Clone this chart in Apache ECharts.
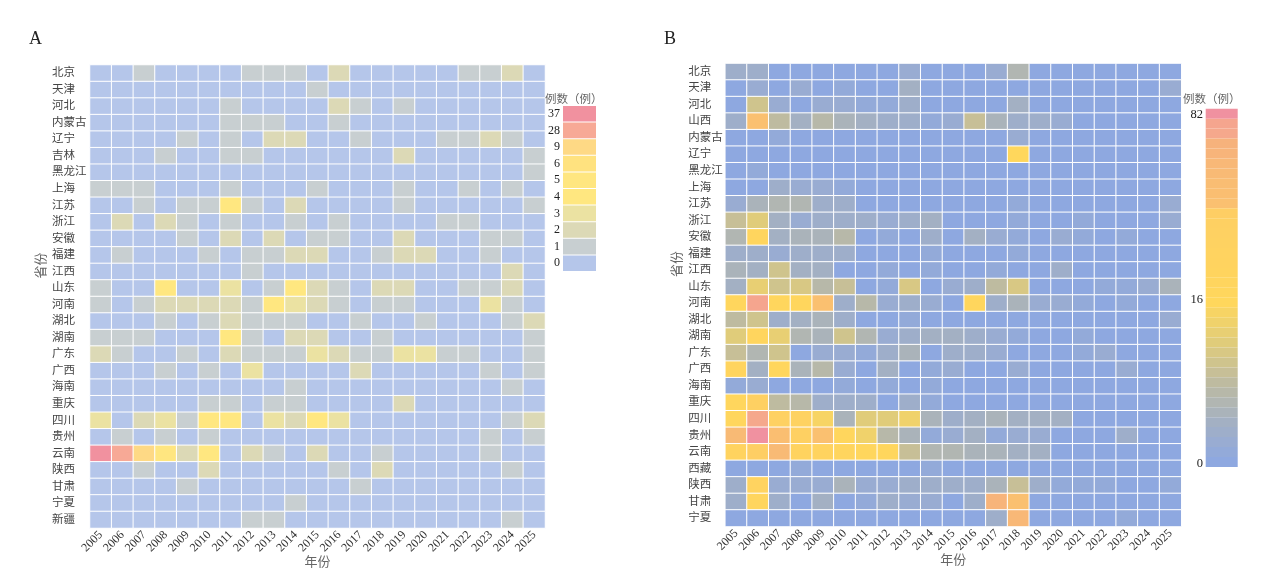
<!DOCTYPE html>
<html>
<head>
<meta charset="utf-8">
<style>html,body{margin:0;padding:0;background:#fff}#c{width:1268px;height:579px}</style>
<script src="https://cdn.jsdelivr.net/npm/echarts@6/dist/echarts.min.js"></script>
</head>
<body>
<div id="c"></div>
<script>
const years = ['2005','2006','2007','2008','2009','2010','2011','2012','2013','2014','2015','2016','2017','2018','2019','2020','2021','2022','2023','2024','2025'];
const provincesA = ['北京','天津','河北','内蒙古','辽宁','吉林','黑龙江','上海','江苏','浙江','安徽','福建','江西','山东','河南','湖北','湖南','广东','广西','海南','重庆','四川','贵州','云南','陕西','甘肃','宁夏','新疆'];
const provincesB = ['北京','天津','河北','山西','内蒙古','辽宁','黑龙江','上海','江苏','浙江','安徽','福建','江西','山东','河南','湖北','湖南','广东','广西','海南','重庆','四川','贵州','云南','西藏','陕西','甘肃','宁夏'];
const valuesA = [
[0,0,1,0,0,0,0,1,1,1,0,2,0,0,0,0,0,1,1,2,0],
[0,0,0,0,0,0,0,0,0,0,1,0,0,0,0,0,0,0,0,0,0],
[0,0,0,0,0,0,1,0,0,0,0,2,1,0,1,0,0,0,0,0,0],
[0,0,0,0,0,0,1,1,1,0,0,1,0,0,0,0,0,0,0,0,0],
[0,0,0,0,1,0,1,0,2,2,0,0,1,0,0,0,1,1,2,1,0],
[0,0,0,1,0,0,1,1,0,0,0,0,0,0,2,0,0,0,0,0,1],
[0,0,0,0,0,0,0,0,0,0,0,0,0,0,0,0,0,0,0,0,1],
[1,1,1,0,0,0,1,0,0,0,1,0,0,0,1,0,0,1,0,1,0],
[0,0,1,0,1,1,4,1,0,2,0,0,0,0,1,0,0,0,0,0,1],
[0,2,0,2,1,0,1,0,0,1,0,1,0,0,0,0,1,1,0,0,0],
[0,0,0,0,1,0,2,0,2,0,1,1,0,0,2,0,0,0,1,1,0],
[0,1,0,0,0,1,0,1,1,2,2,0,0,1,2,2,0,0,1,0,0],
[0,0,0,0,0,0,0,1,0,0,0,0,0,0,0,0,0,0,0,2,0],
[1,0,0,4,0,0,3,0,1,4,2,1,0,2,2,0,0,1,1,2,0],
[1,0,1,2,2,2,2,1,4,3,2,1,0,1,1,0,0,0,3,1,0],
[0,0,0,1,0,1,2,1,1,1,0,0,1,0,0,1,0,0,0,1,2],
[1,1,1,0,0,0,4,1,0,2,2,0,0,1,0,0,0,0,0,0,1],
[2,1,0,0,1,0,2,1,1,1,3,2,1,1,3,3,1,1,0,0,1],
[0,0,0,1,0,1,0,3,0,0,0,0,2,0,0,0,0,0,1,0,1],
[0,0,0,0,0,0,0,0,0,1,0,0,0,0,0,0,0,0,0,1,0],
[0,0,0,0,0,1,1,0,1,1,0,0,0,0,2,0,0,0,0,0,0],
[3,0,2,3,1,4,4,0,3,2,4,3,0,0,0,0,0,0,0,1,2],
[0,1,0,1,0,1,0,0,0,0,0,0,0,0,0,0,0,0,1,0,1],
[37,28,9,5,2,4,0,2,1,0,2,0,0,1,0,0,0,0,1,0,0],
[0,0,1,0,0,2,0,0,0,0,0,1,0,2,0,0,0,0,0,1,0],
[0,0,0,0,1,0,0,0,0,0,0,0,1,0,0,0,0,0,0,0,0],
[0,0,0,0,0,0,0,0,0,1,0,0,0,0,0,0,0,0,0,0,0],
[0,0,0,0,0,0,0,1,1,0,0,0,0,0,0,0,0,0,0,1,0]
];
const valuesB = [
[3,3,0,0,0,0,0,0,2,0,0,0,2,6,0,0,0,0,0,0,0],
[0,2,0,2,0,1,0,0,4,0,0,0,0,0,0,0,0,0,0,0,2],
[0,10,2,0,2,2,1,1,3,0,0,0,0,4,0,0,0,0,0,0,0],
[3,28,8,4,7,5,4,3,3,1,2,9,5,3,3,2,0,0,0,0,0],
[0,0,1,0,0,0,0,0,0,0,0,0,0,2,0,0,0,0,0,0,0],
[0,0,0,0,0,0,0,0,0,0,0,0,0,16,0,0,0,0,0,0,0],
[0,1,0,0,0,0,0,0,0,0,0,0,0,0,0,0,0,0,0,0,0],
[0,0,3,2,2,1,0,0,0,0,0,0,0,0,0,0,0,0,0,0,0],
[2,5,6,6,3,3,0,0,0,0,0,0,0,1,0,0,0,0,0,0,2],
[9,12,4,2,3,3,3,2,3,4,0,0,0,1,0,0,1,0,0,0,2],
[6,18,4,5,5,7,0,1,0,3,0,4,2,1,0,2,1,0,1,0,0],
[3,3,2,3,3,3,0,0,0,1,0,0,0,1,0,0,0,0,0,0,0],
[5,4,10,4,4,0,0,1,0,1,0,0,1,0,0,3,0,0,0,0,0],
[4,13,10,11,7,9,0,1,11,0,2,3,8,11,0,0,0,1,1,2,5],
[17,55,17,17,28,3,7,2,3,2,0,17,3,5,2,2,1,0,1,0,0],
[8,10,3,4,5,3,0,0,1,0,0,0,0,0,0,0,0,0,0,0,2],
[12,18,13,6,5,10,6,2,3,4,4,3,2,1,0,0,1,0,0,0,0],
[9,6,10,0,2,2,1,3,5,0,3,3,2,0,0,0,1,2,0,0,0],
[19,4,17,5,7,2,0,4,0,1,2,0,0,2,0,0,0,0,2,0,0],
[1,2,0,0,0,1,0,1,0,1,0,0,0,0,0,0,0,0,0,0,0],
[17,24,8,7,3,3,3,0,3,1,0,0,0,0,0,0,0,0,0,0,0],
[17,48,23,22,15,5,12,12,14,5,3,4,5,4,4,4,0,0,0,0,0],
[35,82,30,24,28,17,14,7,5,1,2,4,1,2,2,0,0,0,3,0,0],
[20,26,35,20,20,18,17,17,9,6,6,5,5,4,4,0,0,0,0,0,0],
[0,0,0,1,0,0,0,0,0,1,0,0,0,0,0,0,0,0,0,0,0],
[3,21,2,2,2,5,2,2,3,3,3,3,5,9,3,1,1,1,0,0,1],
[3,18,3,0,4,0,1,3,2,2,0,3,42,28,0,0,0,0,0,0,0],
[0,0,0,0,0,0,0,0,0,0,0,0,3,38,0,0,0,0,1,0,0]
];
const legendLevelsA = [0,1,2,3,4,5,6,9,28,37];
const legendColorsA = ['#b5c6ea','#c8cfd1','#dcd9b6','#ebe2a2','#ffe780','#ffe680','#ffe27f','#fed985','#f7a996','#f1919f'];
const legendLevelsB = [0,1,2,3,4,5,6,7,8,9,10,11,12,13,14,15,16,17,18,19,20,21,22,23,24,26,28,30,32,35,38,42,45,48,55,82];
const legendTicksB = ['82','16','0'];
const legendTickTopsB = [108,293,457];
const gradientStopsB = [[0,[142,168,224]],[4,[163,176,195]],[8,[190,187,160]],[12,[224,204,122]],[16,[255,215,92]],[26,[254,206,100]],[28,[250,192,112]],[45,[246,178,124]],[48,[245,168,140]],[55,[245,165,142]],[82,[240,145,160]]];
const axisNames = {x:'年份', y:'省份', legend:'例数（例）'};

function levelColor(v){
  for(let i=1;i<gradientStopsB.length;i++){
    const [a,ca]=gradientStopsB[i-1],[b,cb]=gradientStopsB[i];
    if(v<=b){const t=(v-a)/(b-a);return 'rgb('+ca.map((c,k)=>Math.round(c+(cb[k]-c)*t)).join(',')+')';}
  }
}
const FF = '"Liberation Serif","Noto Sans CJK SC",serif';
const cells = m => m.flatMap((row,y)=>row.map((v,x)=>[x,y,v]));

function axes(idx,provinces,margin,yGap){
  return {
    x:{type:'category',gridIndex:idx,data:years,position:'bottom',name:axisNames.x,nameLocation:'middle',nameGap:28,nameMoveOverlap:false,
       nameTextStyle:{fontFamily:FF,fontSize:13,color:'#666'},
       axisLine:{show:false},axisTick:{show:false},splitLine:{show:false},
       axisLabel:{interval:0,rotate:45,margin:5,fontFamily:FF,fontSize:12,color:'#333'}},
    y:{type:'category',gridIndex:idx,data:provinces,inverse:true,name:axisNames.y,nameLocation:'middle',nameGap:yGap,
       nameTextStyle:{fontFamily:FF,fontSize:13,color:'#666',padding:[0,0,0,62]},
       axisLine:{show:false},axisTick:{show:false},splitLine:{show:false},
       axisLabel:{interval:0,align:'left',margin:margin,fontFamily:FF,fontSize:11.5,color:'#444'}}
  };
}
const a=axes(0,provincesA,38,42), b=axes(1,provincesB,37,40);
const seriesStyle = {borderColor:'#fff',borderWidth:1};
const plain = (size,color)=>({fontFamily:FF,fontSize:size,fontWeight:'normal',color:color});
const option = {
  animation:false,
  backgroundColor:'#fff',
  title:[
    {text:'A',left:24,top:25,textStyle:plain(18,'#222')},
    {text:'B',left:659,top:25,textStyle:plain(18,'#222')},
    {text:axisNames.legend,left:545,top:94,padding:0,textStyle:plain(11.5,'#666')},
    {text:axisNames.legend,left:1183,top:94,padding:0,textStyle:plain(11.5,'#666')}
  ].concat(legendTicksB.map((t,i)=>({text:t,left:1203,top:legendTickTopsB[i],padding:0,textAlign:'right',textStyle:plain(12.5,'#222')}))),
  grid:[
    {left:90,top:65,width:455,height:463},
    {left:725.3,top:63.5,width:456,height:463}
  ],
  xAxis:[a.x,b.x],
  yAxis:[a.y,b.y],
  visualMap:[
    {type:'piecewise',seriesIndex:0,orient:'vertical',align:'right',right:672,top:106,padding:0,
     itemWidth:33,itemHeight:15.6,itemGap:1,textGap:3,selectedMode:false,hoverLink:false,itemSymbol:'rect',
     textStyle:{fontFamily:FF,fontSize:12,color:'#222'},
     pieces:legendLevelsA.map((v,i)=>({value:v,label:String(v),color:legendColorsA[i]}))},
    {type:'piecewise',seriesIndex:1,orient:'vertical',align:'right',right:30.3,top:108.7,padding:0,showLabel:false,
     itemWidth:32,itemHeight:9.95,itemGap:0,selectedMode:false,hoverLink:false,itemSymbol:'rect',
     pieces:legendLevelsB.map(v=>({value:v,color:levelColor(v)}))}
  ],
  series:[
    {type:'heatmap',xAxisIndex:0,yAxisIndex:0,data:cells(valuesA),itemStyle:seriesStyle,emphasis:{disabled:true},progressive:0},
    {type:'heatmap',xAxisIndex:1,yAxisIndex:1,data:cells(valuesB),itemStyle:seriesStyle,emphasis:{disabled:true},progressive:0}
  ]
};
echarts.init(document.getElementById('c'),null,{renderer:'canvas'}).setOption(option);
</script>
</body>
</html>
